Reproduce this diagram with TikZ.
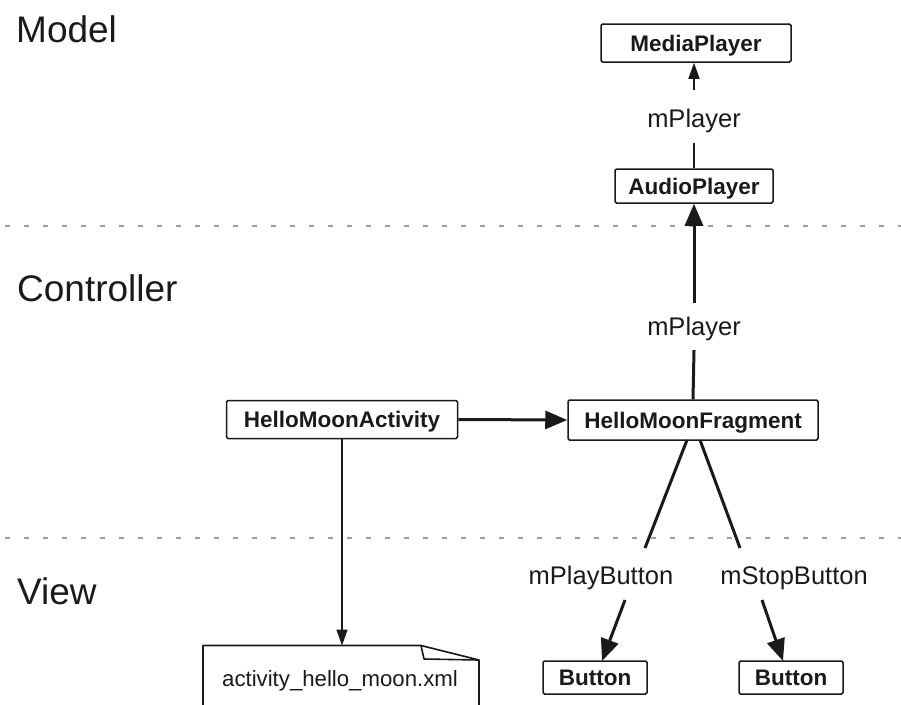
\documentclass[tikz,border=0pt]{standalone}
\usepackage{fontspec}
\setmainfont{Liberation Sans}
\usetikzlibrary{arrows.meta}
\definecolor{ink}{HTML}{1A1A1A}
\tikzset{
  box/.style={draw=ink, line width=1.5pt, rounded corners=1.5pt, fill=white,
    font=\fontsize{22.5}{26}\selectfont\bfseries, text=ink, inner sep=0pt,
    text height=16pt, text depth=0pt},
  lbl/.style={font=\fontsize{25.5}{28}\selectfont, text=ink, inner sep=0pt},
  heading/.style={font=\fontsize{37}{40}\selectfont, text=ink, anchor=base west, inner sep=0pt},
  sep/.style={draw=gray!75, line width=2.6pt, dash pattern=on 5pt off 14pt},
  thin/.style={draw=ink, line width=1.6pt},
  thick/.style={draw=ink, line width=3pt},
  tipbig/.style={-{Triangle[length=22pt,width=18pt]}},
  tipsmall/.style={-{Triangle[length=16pt,width=11pt]}},
}
\begin{document}
\begin{tikzpicture}[x=1pt,y=-1pt]
\useasboundingbox (0,0) rectangle (901,704);
% separators
\draw[sep] (5,226) -- (901,226);
\draw[sep] (5,538) -- (901,538);
% headings
\node[heading] (hmodel) at (16,42) {Model};
\node[heading] (hctrl) at (17,301) {Controller};
\node[heading] (hview) at (17,604) {View};
% boxes
\node[box, minimum width=190pt, minimum height=38pt] (mp) at (696,43) {MediaPlayer};
\node[box, minimum width=158pt, minimum height=34pt] (ap) at (694,186) {AudioPlayer};
\node[box, minimum width=231pt, minimum height=38pt] (act) at (342,419.5) {HelloMoonActivity};
\node[box, minimum width=250pt, minimum height=40pt] (frag) at (693,420) {HelloMoonFragment};
\node[box, minimum width=104pt, minimum height=33pt] (b1) at (595,677.5) {Button};
\node[box, minimum width=104pt, minimum height=33pt] (b2) at (791,677.5) {Button};
% labels
\node[lbl, text height=37pt, text depth=16pt] (l1) at (694,116.5) {mPlayer};
\node[lbl, text height=32pt, text depth=15pt] (l2) at (694,326.5) {mPlayer};
\node[lbl] (l3) at (601,578) {mPlayButton};
\node[lbl] (l4) at (794,578) {mStopButton};
% top connectors
\draw[thin, tipsmall] (l1.north) -- (l1.north |- mp.south);
\draw[thin] (ap.north) -- (l1.south);
\draw[thick, tipbig] (l2.north) -- (ap.south);
\draw[thick] (frag.north) -- (l2.south);
\draw[thick, tipbig] (act.east) -- (frag.west);
% button connectors
\coordinate (f1) at (687,440);
\coordinate (f2) at (700,440);
\coordinate (e1) at (645,548);
\coordinate (e2) at (740,548);
\coordinate (s1) at (625,600);
\coordinate (s2) at (762,600);
\coordinate (t1) at (602,661);
\coordinate (t2) at (783,661);
\draw[thick] (f1) -- (e1);
\draw[thick] (f2) -- (e2);
\draw[thick, tipbig] (s1) -- (t1);
\draw[thick, tipbig] (s2) -- (t2);
% xml file
\coordinate (ftop) at (342,645.5);
\draw[thin, line join=round] (203,720) -- (203,645.5) -- (421,645.5) -- (479,660) -- (479,720);
\draw[thin, line join=round] (421,645.5) -- (424,659) -- (479,660);
\node[font=\fontsize{22.2}{25}\selectfont, text=ink, inner sep=0pt] (xml) at (340,681) {activity\_hello\_moon.xml};
\draw[thin, tipsmall] (act.south) -- (ftop);
\end{tikzpicture}
\end{document}
